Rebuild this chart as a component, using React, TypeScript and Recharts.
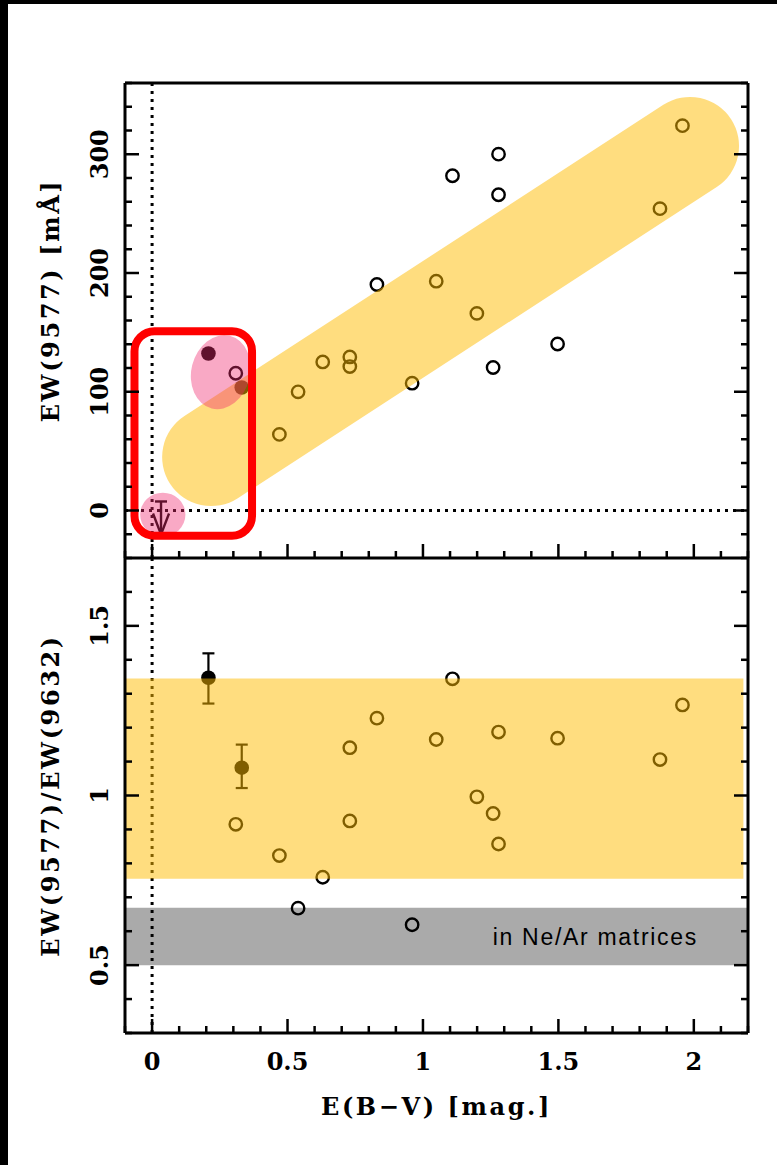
import React from 'react';
import { ComposedChart, Scatter, XAxis, YAxis, ReferenceLine, ReferenceArea, ErrorBar, Label } from 'recharts';

// axis ticks (minor every step, majors picked out in the tick renderer)
const ebvTicks = [-0.1, 0, 0.1, 0.2, 0.3, 0.4, 0.5, 0.6, 0.7, 0.8, 0.9, 1, 1.1, 1.2, 1.3, 1.4, 1.5, 1.6, 1.7, 1.8, 1.9, 2, 2.1, 2.2];
const ewTicks = [-40, -20, 0, 20, 40, 60, 80, 100, 120, 140, 160, 180, 200, 220, 240, 260, 280, 300, 320, 340, 360];
const ratioTicks = [0.3, 0.4, 0.5, 0.6, 0.7, 0.8, 0.9, 1, 1.1, 1.2, 1.3, 1.4, 1.5, 1.6, 1.7];

// sight lines measured in both bands (open circles)
const ebvOpen = [0.47, 0.539, 0.63, 0.73, 0.73, 0.83, 0.96, 1.049, 1.109, 1.199, 1.259, 1.279, 1.279, 1.497, 1.875, 1.958, 0.309];
const ew9577Open = [64.1, 99.9, 125.1, 129.3, 121.2, 190.3, 107.2, 193.1, 281.9, 166, 120.4, 300.1, 265.9, 140.2, 254.2, 324.1, 115.6];
const ratioOpen = [0.823, 0.668, 0.759, 1.141, 0.925, 1.228, 0.619, 1.165, 1.344, 0.996, 0.947, 1.187, 0.857, 1.169, 1.106, 1.267, 0.915];

// the two targets with error bars (filled circles)
const ebvFilled = [0.208, 0.331];
const ew9577Filled = [132.2, 103.6];
const ratioFilled = [1.347, 1.082];
const ratioErrLow = [0.076, 0.06];
const ratioErrHigh = [0.072, 0.068];

// upper limit near zero reddening
const ebvLimit = [0.033];
const ew9577Limit = [7.6];

// highlighted regions
const trendStart = { x: 0.218, y: 45 };
const trendEnd = { x: 1.986, y: 307 };
const pinkBlobX = [0.145, 0.362];
const pinkBlobY = [85, 148];
const pinkDotX = [-0.044, 0.123];
const pinkDotY = [-22, 15];
const boxX = [-0.065, 0.369];
const boxY = [-21.3, 151];
const ratioBand = [0.755, 1.345];
const ratioBandEnd = 2.183;
const matrixBand = [0.5, 0.669];

const openTop = ebvOpen.map((x, i) => ({ x, y: ew9577Open[i] }));
const filledTop = ebvFilled.map((x, i) => ({ x, y: ew9577Filled[i] }));
const limitTop = ebvLimit.map((x, i) => ({ x, y: ew9577Limit[i] }));
const openBottom = ebvOpen.map((x, i) => ({ x, y: ratioOpen[i] }));
const filledBottom = ebvFilled.map((x, i) => ({ x, y: ratioFilled[i], err: [ratioErrLow[i], ratioErrHigh[i]] }));

const INK = '#000';
const GOLD = 'rgb(255, 188, 0)';
const PINK = 'rgb(240, 40, 110)';
const SERIF = '"DejaVu Serif", serif';

type Side = 'left' | 'right' | 'top' | 'bottom';

// inward tick marks; majors are longer and optionally labelled outside the frame
function frameTick(side: Side, majorStep: number, labelled: boolean) {
  return (props: any) => {
    const { x, y, payload } = props;
    const v = payload.value;
    const major = Math.abs(v / majorStep - Math.round(v / majorStep)) < 1e-6;
    const len = major ? 14 : 7;
    let x2 = x;
    let y2 = y;
    if (side === 'left') x2 = x + len;
    if (side === 'right') x2 = x - len;
    if (side === 'top') y2 = y + len;
    if (side === 'bottom') y2 = y - len;
    let text = null;
    if (labelled && major) {
      if (side === 'left') {
        const tx = x - 17;
        text = (
          <text x={tx} y={y} transform={`rotate(-90 ${tx} ${y})`} textAnchor="middle"
            fontFamily={SERIF} fontWeight="bold" fontSize={24} fill={INK}>{String(v)}</text>
        );
      } else {
        text = (
          <text x={x} y={y + 37} textAnchor="middle" fontFamily={SERIF} fontWeight="bold" fontSize={24} fill={INK}>
            {String(v)}
          </text>
        );
      }
    }
    return (
      <g>
        <line x1={x} y1={y} x2={x2} y2={y2} stroke={INK} strokeWidth={2.5} />
        {text}
      </g>
    );
  };
}

const frameLine = { stroke: INK, strokeWidth: 3 };

const openPoint = (p: any) => <circle cx={p.cx} cy={p.cy} r={6.2} fill="none" stroke={INK} strokeWidth={2.4} />;
const filledPoint = (p: any) => <circle cx={p.cx} cy={p.cy} r={7.3} fill={INK} />;
const upperLimit = (p: any) => (
  <g stroke={INK} strokeWidth={2.4} fill="none">
    <line x1={p.cx - 6} y1={p.cy} x2={p.cx + 6} y2={p.cy} />
    <line x1={p.cx} y1={p.cy} x2={p.cx} y2={p.cy + 33} />
    <polyline points={`${p.cx - 8},${p.cy + 12} ${p.cx},${p.cy + 33} ${p.cx + 8},${p.cy + 12}`} />
  </g>
);

const blob = (tilt: number) => (p: any) => {
  const cx = p.x + p.width / 2;
  const cy = p.y + p.height / 2;
  return (
    <ellipse cx={cx} cy={cy} rx={Math.abs(p.width) / 2} ry={Math.abs(p.height) / 2}
      fill={PINK} fillOpacity={0.4} transform={`rotate(${tilt} ${cx} ${cy})`} />
  );
};

const roundedBox = (p: any) => (
  <rect x={p.x} y={p.y} width={p.width} height={p.height} rx={20} ry={20} fill="none" stroke="#f00" strokeWidth={8} />
);

const titleFont = { fontFamily: SERIF, fontWeight: 'bold', fontSize: 24, letterSpacing: 2.6, fill: INK };

function yTitle(text: string, shift: number) {
  return (p: any) => {
    const vb = p.viewBox;
    const tx = vb.x - 65.5;
    const ty = vb.y + vb.height / 2 + shift;
    return (
      <text x={tx} y={ty} transform={`rotate(-90 ${tx} ${ty})`} textAnchor="middle" {...titleFont}>{text}</text>
    );
  };
}

function xTitle(text: string) {
  return (p: any) => {
    const vb = p.viewBox;
    return (
      <text x={vb.x + vb.width / 2} y={vb.y + 82} textAnchor="middle" {...titleFont}>{text}</text>
    );
  };
}

// axes are 1px thick so the ticks sit on the frame edge
const edgeX = { type: 'number' as const, domain: [-0.1, 2.2], allowDataOverflow: true, ticks: ebvTicks, interval: 0,
  height: 1, tickSize: 0, tickMargin: 0, tickLine: false, axisLine: frameLine, zIndex: 800 };

function EwPanel() {
  const edgeY = { type: 'number' as const, domain: [-40, 360], allowDataOverflow: true, ticks: ewTicks, interval: 0,
    width: 1, tickSize: 0, tickMargin: 0, tickLine: false, axisLine: frameLine, zIndex: 800 };
  return (
    <ComposedChart width={777} height={559} margin={{ top: 82, right: 28, bottom: 0, left: 124 }}>
      <ReferenceLine xAxisId="b" yAxisId="l" x={0} stroke={INK} strokeWidth={3} strokeDasharray="3 5" />
      <ReferenceLine xAxisId="b" yAxisId="l" y={0} stroke={INK} strokeWidth={3} strokeDasharray="3 5" />

      <Scatter xAxisId="b" yAxisId="l" data={openTop} dataKey="y" shape={openPoint} isAnimationActive={false} />
      <Scatter xAxisId="b" yAxisId="l" data={filledTop} dataKey="y" shape={filledPoint} isAnimationActive={false} />
      <Scatter xAxisId="b" yAxisId="l" data={limitTop} dataKey="y" shape={upperLimit} isAnimationActive={false} />

      <ReferenceLine xAxisId="b" yAxisId="l" segment={[trendStart, trendEnd]} stroke={GOLD} strokeOpacity={0.5}
        strokeWidth={98} strokeLinecap="round" zIndex={700} />
      <ReferenceArea xAxisId="b" yAxisId="l" x1={pinkBlobX[0]} x2={pinkBlobX[1]} y1={pinkBlobY[0]} y2={pinkBlobY[1]}
        shape={blob(14)} zIndex={710} />
      <ReferenceArea xAxisId="b" yAxisId="l" x1={pinkDotX[0]} x2={pinkDotX[1]} y1={pinkDotY[0]} y2={pinkDotY[1]}
        shape={blob(0)} zIndex={710} />
      <ReferenceArea xAxisId="b" yAxisId="l" x1={boxX[0]} x2={boxX[1]} y1={boxY[0]} y2={boxY[1]}
        shape={roundedBox} zIndex={720} />

      <XAxis xAxisId="t" orientation="top" {...edgeX} tick={frameTick('top', 0.5, false)} />
      <XAxis xAxisId="b" orientation="bottom" dataKey="x" {...edgeX} tick={frameTick('bottom', 0.5, false)} />
      <YAxis yAxisId="r" orientation="right" {...edgeY} tick={frameTick('right', 100, false)} />
      <YAxis yAxisId="l" orientation="left" {...edgeY} tick={frameTick('left', 100, true)}>
        <Label content={yTitle('EW(9577) [mÅ]', -20)} />
      </YAxis>
    </ComposedChart>
  );
}

function RatioPanel() {
  const edgeY = { type: 'number' as const, domain: [0.3, 1.7], allowDataOverflow: true, ticks: ratioTicks, interval: 0,
    width: 1, tickSize: 0, tickMargin: 0, tickLine: false, axisLine: frameLine, zIndex: 800 };
  return (
    <ComposedChart width={777} height={608} margin={{ top: 0, right: 28, bottom: 131, left: 124 }}>
      <ReferenceLine xAxisId="b" yAxisId="l" x={0} stroke={INK} strokeWidth={3} strokeDasharray="3 5" />

      <Scatter xAxisId="b" yAxisId="l" data={openBottom} dataKey="y" shape={openPoint} isAnimationActive={false} />
      <Scatter xAxisId="b" yAxisId="l" data={filledBottom} dataKey="y" shape={filledPoint} isAnimationActive={false}>
        <ErrorBar dataKey="err" direction="y" width={6} stroke={INK} strokeWidth={2.2} />
      </Scatter>

      <ReferenceArea xAxisId="b" yAxisId="l" x1={-0.1} x2={ratioBandEnd} y1={ratioBand[0]} y2={ratioBand[1]}
        fill={GOLD} fillOpacity={0.5} stroke="none" zIndex={700} />
      <ReferenceArea xAxisId="b" yAxisId="l" x1={-0.1} x2={2.2} y1={matrixBand[0]} y2={matrixBand[1]}
        fill={INK} fillOpacity={0.333} stroke="none" zIndex={700}
        label={{ value: 'in Ne/Ar matrices', position: 'insideRight', offset: 50, fill: INK, fontSize: 23,
          fontFamily: '"Liberation Sans", sans-serif', letterSpacing: 1.7 }} />

      <XAxis xAxisId="t" orientation="top" {...edgeX} tick={frameTick('top', 0.5, false)} />
      <XAxis xAxisId="b" orientation="bottom" dataKey="x" {...edgeX} tick={frameTick('bottom', 0.5, true)}>
        <Label content={xTitle('E(B−V) [mag.]')} />
      </XAxis>
      <YAxis yAxisId="r" orientation="right" {...edgeY} tick={frameTick('right', 0.5, false)} />
      <YAxis yAxisId="l" orientation="left" {...edgeY} tick={frameTick('left', 0.5, true)}>
        <Label content={yTitle('EW(9577)/EW(9632)', 0)} />
      </YAxis>
    </ComposedChart>
  );
}

export default function App() {
  return (
    <div style={{ position: 'absolute', left: 0, top: 0, width: 777, height: 1165, background: '#000' }}>
      <div style={{ position: 'absolute', left: 8, top: 4, right: 0, bottom: 0, background: '#fff' }} />
      <div style={{ position: 'absolute', left: 0, top: 0 }}>
        <EwPanel />
      </div>
      <div style={{ position: 'absolute', left: 0, top: 557 }}>
        <RatioPanel />
      </div>
    </div>
  );
}
